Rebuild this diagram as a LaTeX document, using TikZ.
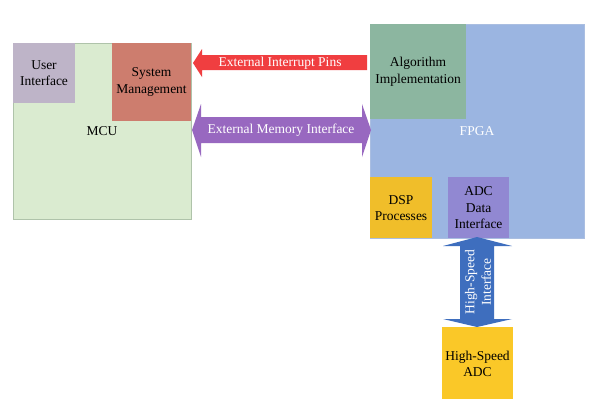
\documentclass[tikz,border=0pt]{standalone}
\usepackage{fontspec}
\setmainfont{Liberation Serif}
\definecolor{mcugreen}{RGB}{218,235,208}
\definecolor{mcuedge}{RGB}{175,195,170}
\definecolor{uigrey}{RGB}{190,180,200}
\definecolor{sysred}{RGB}{205,125,110}
\definecolor{intred}{RGB}{240,62,64}
\definecolor{mempurple}{RGB}{152,104,192}
\definecolor{fpgablue}{RGB}{155,181,225}
\definecolor{fpgaedge}{RGB}{170,190,225}
\definecolor{algteal}{RGB}{140,182,160}
\definecolor{dspyellow}{RGB}{240,190,42}
\definecolor{adcviolet}{RGB}{145,136,210}
\definecolor{hsblue}{RGB}{62,110,190}
\definecolor{adcyellow}{RGB}{250,200,40}
\begin{document}
\begin{tikzpicture}[x=1pt,y=-1pt,
  lbl/.style={inner sep=0pt,align=center,font=\fontsize{13.5}{16.5}\selectfont}]
\useasboundingbox[fill=white] (0,0) rectangle (600,416);
% MCU
\path[fill=mcugreen,draw=mcuedge,line width=0.8pt] (13,43) rectangle (191,219);
\node[lbl] (mcu) at (102,131) {MCU};
\path[fill=uigrey] (13.4,43.4) rectangle (75,103);
\node[lbl] (ui) at (44,73) {User\\Interface};
\path[fill=sysred] (112,43.4) rectangle (190.6,121);
\node[lbl] (sys) at (151.5,82) {System\\Management};
% FPGA
\path[fill=fpgablue,draw=fpgaedge,line width=0.8pt] (370,24) rectangle (584,238);
\node[lbl,text=white] (fpga) at (477,131) {FPGA};
\path[fill=algteal] (370.4,24.4) rectangle (466,119);
\node[lbl] (alg) at (418,71.5) {Algorithm\\Implementation};
\path[fill=dspyellow] (370.4,177) rectangle (432,237.6);
\node[lbl] (dsp) at (401,208) {DSP\\Processes};
\path[fill=adcviolet] (448,177) rectangle (509,237.6);
\node[lbl] (adcif) at (478.5,208) {ADC\\Data\\Interface};
% High-speed ADC
\path[fill=adcyellow] (442,327) rectangle (513,399);
\node[lbl] (adc) at (477.5,364) {High-Speed\\ADC};
% Interrupt arrow
\path[fill=intred] (193,63) -- (202,49) -- (202,55) -- (367,55) -- (367,70) -- (202,70) -- (202,77) -- cycle;
\node[lbl,text=white] (intlbl) at (280,63) {External Interrupt Pins};
% Memory arrow
\path[fill=mempurple] (192,130) -- (201,104) -- (201,117) -- (362,117) -- (362,104) -- (371,130) -- (362,157) -- (362,143) -- (201,143) -- (201,157) -- cycle;
\node[lbl,text=white] (memlbl) at (281,130) {External Memory Interface};
% High-speed interface arrow
\path[fill=hsblue] (477,237) -- (512,246) -- (494,246) -- (494,319) -- (512,319) -- (477,327) -- (443,319) -- (460,319) -- (460,246) -- (443,246) -- cycle;
\node[lbl,text=white,rotate=90] (hslbl) at (478,282) {High-Speed\\Interface};
\end{tikzpicture}
\end{document}
